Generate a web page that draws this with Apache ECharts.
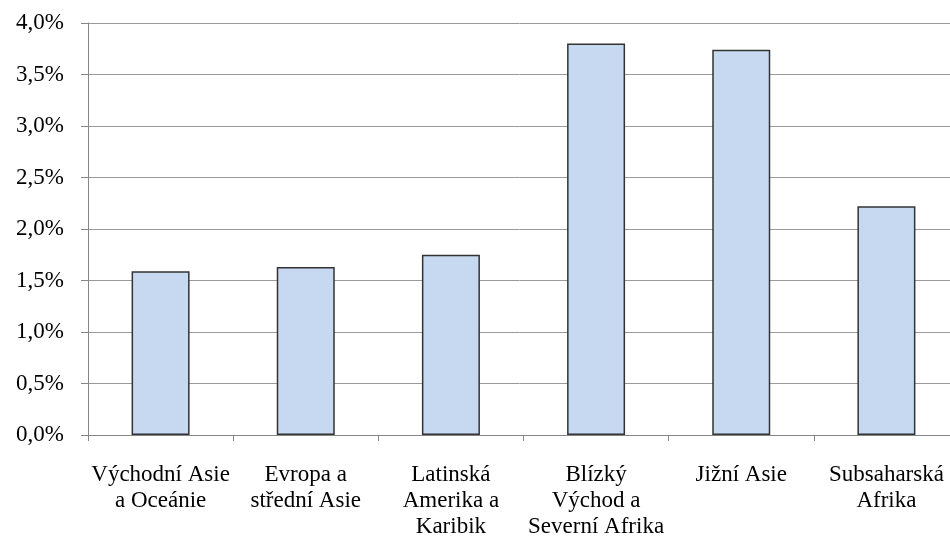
<!DOCTYPE html>
<html>
<head>
<meta charset="utf-8">
<script src="https://cdn.jsdelivr.net/npm/echarts@6/dist/echarts.min.js"></script>
<style>
  html, body { margin: 0; padding: 0; background: #fff; }
  #chart { width: 950px; height: 536px; }
</style>
</head>
<body>
<div id="chart"></div>
<script>
var regions = ['Východní Asie\na Oceánie', 'Evropa a\nstřední Asie', 'Latinská\nAmerika a\nKaribik',
               'Blízký\nVýchod a\nSeverní Afrika', 'Jižní Asie', 'Subsaharská\nAfrika'];
var shares = [1.59, 1.63, 1.75, 3.80, 3.74, 2.22];

var chart = echarts.init(document.getElementById('chart'));
var font = 'Liberation Serif';

chart.setOption({
    animation: false,
    grid: { left: 88, top: 23, bottom: 101, right: -9, outerBoundsMode: 'none' },
    xAxis: {
        type: 'category',
        data: regions,
        axisLine: { lineStyle: { color: '#868686', width: 1 } },
        axisTick: { show: true, length: 6, lineStyle: { color: '#868686' } },
        axisLabel: {
            color: '#000',
            fontFamily: font,
            fontSize: 23,
            lineHeight: 26,
            margin: 27,
            interval: 0
        }
    },
    yAxis: {
        type: 'value',
        min: 0,
        max: 4,
        interval: 0.5,
        axisLine: { show: true, lineStyle: { color: '#868686' } },
        axisTick: { show: true, length: 7, lineStyle: { color: '#868686' } },
        splitLine: { lineStyle: { color: '#9a9a9a', width: 1 } },
        axisLabel: {
            color: '#000',
            fontFamily: font,
            fontSize: 23,
            margin: 24,
            formatter: function (v) { return v.toFixed(1).replace('.', ',') + '%'; }
        }
    },
    series: [{
        type: 'bar',
        data: shares,
        barWidth: 58,
        itemStyle: { color: '#c6d9f1', borderColor: '#333', borderWidth: 1.5 }
    }]
});
</script>
</body>
</html>
